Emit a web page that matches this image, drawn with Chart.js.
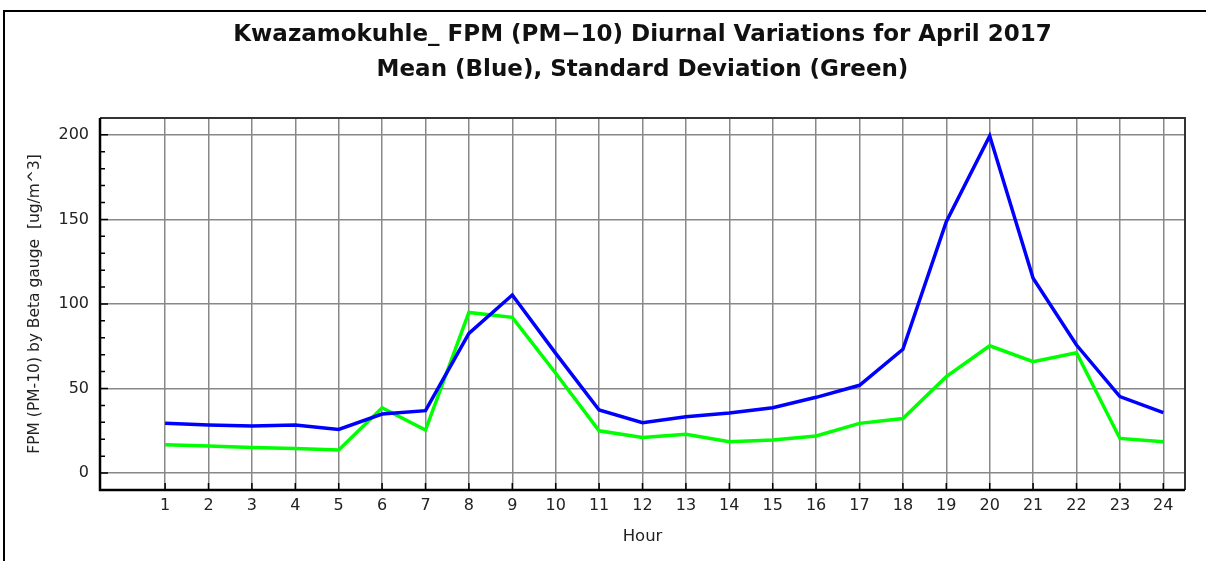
<!DOCTYPE html>
<html>
<head>
<meta charset="utf-8">
<script src="https://cdn.jsdelivr.net/npm/chart.js@4"></script>
<style>
html,body{margin:0;padding:0;background:#fff;}
#wrap{position:relative;width:1206px;height:561px;overflow:hidden;}
#frame{position:absolute;left:3px;top:10px;width:1220px;height:600px;border:2px solid #000;box-sizing:border-box;}
canvas{position:absolute;left:0;top:0;}
</style>
</head>
<body>
<div id="wrap">
<div id="frame"></div>
<canvas id="c" width="1206" height="561"></canvas>
</div>
<script>
const titleLines = ["Kwazamokuhle_ FPM (PM\u221210) Diurnal Variations for April 2017", "Mean (Blue), Standard Deviation (Green)"];
const xTitle = "Hour";
const yTitle = "FPM (PM-10) by Beta gauge  [ug/m^3]";
const hours = [1,2,3,4,5,6,7,8,9,10,11,12,13,14,15,16,17,18,19,20,21,22,23,24];
const meanValues = [29.4, 28.4, 27.8, 28.4, 25.8, 34.9, 36.9, 82.6, 105.3, 70.8, 37.3, 29.8, 33.3, 35.5, 38.6, 44.8, 51.9, 73.2, 148.7, 199.4, 115.2, 75.7, 45.2, 35.7];
const sdValues = [16.8, 16.0, 15.2, 14.6, 13.6, 38.6, 25.4, 95.0, 92.1, 59.0, 25.0, 21.1, 22.9, 18.5, 19.5, 21.9, 29.4, 32.3, 57.0, 75.3, 65.9, 71.2, 20.5, 18.5];
const yTickValues = [0, 50, 100, 150, 200];
const yMinorValues = [10,20,30,40,60,70,80,90,110,120,130,140,160,170,180,190];

const font = "'DejaVu Sans', 'Liberation Sans', Arial, sans-serif";

const frameTicks = {
  id: 'frameTicks',
  afterDraw(chart) {
    const ctx = chart.ctx, a = chart.chartArea;
    const xs = chart.scales.x, ys = chart.scales.y;
    ctx.save();
    ctx.strokeStyle = '#000';
    ctx.lineWidth = 1.5;
    ctx.beginPath();
    yTickValues.forEach(v => { const p = ys.getPixelForValue(v); ctx.moveTo(a.left, p); ctx.lineTo(a.left + 8, p); });
    yMinorValues.forEach(v => { const p = ys.getPixelForValue(v); ctx.moveTo(a.left, p); ctx.lineTo(a.left + 5, p); });
    hours.forEach(v => { const p = xs.getPixelForValue(v); ctx.moveTo(p, a.bottom); ctx.lineTo(p, a.bottom - 7); });
    ctx.stroke();
    ctx.strokeStyle = '#333';
    ctx.lineWidth = 2;
    ctx.beginPath();
    ctx.moveTo(a.left, a.top); ctx.lineTo(a.right, a.top); ctx.lineTo(a.right, a.bottom);
    ctx.stroke();
    ctx.strokeStyle = '#000';
    ctx.lineWidth = 2.5;
    ctx.beginPath();
    ctx.moveTo(a.left, a.top); ctx.lineTo(a.left, a.bottom); ctx.lineTo(a.right, a.bottom);
    ctx.stroke();
    ctx.restore();
  }
};

new Chart(document.getElementById('c'), {
  type: 'line',
  data: {
    datasets: [
      { label: 'Mean', data: hours.map((h, i) => ({x: h, y: meanValues[i]})), borderColor: '#0000ff', borderWidth: 3.5, pointRadius: 0, tension: 0, fill: false },
      { label: 'Standard Deviation', data: hours.map((h, i) => ({x: h, y: sdValues[i]})), borderColor: '#00ff00', borderWidth: 3.5, pointRadius: 0, tension: 0, fill: false }
    ]
  },
  options: {
    responsive: false,
    animation: false,
    devicePixelRatio: 1,
    layout: { padding: { left: 0, right: 21, top: 0, bottom: 0 } },
    plugins: {
      legend: { display: false },
      tooltip: { enabled: false },
      title: {
        display: true,
        text: titleLines,
        fullSize: false,
        color: '#111',
        font: { family: font, size: 23, weight: 'bold', lineHeight: 1.52 },
        padding: { top: 17.5, bottom: 30.5 }
      }
    },
    scales: {
      x: {
        type: 'linear',
        min: -0.5, max: 24.5,
        afterBuildTicks(scale) { scale.ticks = hours.map(v => ({ value: v })); },
        afterFit(scale) { scale.height = 71; },
        grid: { color: '#888', lineWidth: 1.5, drawTicks: false },
        border: { display: false },
        ticks: { color: '#222', font: { family: font, size: 16 }, padding: 6, autoSkip: false, maxRotation: 0, callback: v => String(v) },
        title: { display: true, text: xTitle, color: '#222', font: { family: font, size: 16.5 }, padding: { top: 0, bottom: 14 } }
      },
      y: {
        type: 'linear',
        min: -10, max: 210,
        afterBuildTicks(scale) { scale.ticks = yTickValues.map(v => ({ value: v })); },
        afterFit(scale) { scale.width = 100; },
        grid: { color: '#888', lineWidth: 1.5, drawTicks: false },
        border: { display: false },
        ticks: { color: '#222', font: { family: font, size: 16 }, padding: 11 },
        title: { display: true, text: yTitle, color: '#222', font: { family: font, size: 15.5 }, padding: { top: 25.5, bottom: 0 } }
      }
    }
  },
  plugins: [frameTicks]
});
</script>
</body>
</html>
